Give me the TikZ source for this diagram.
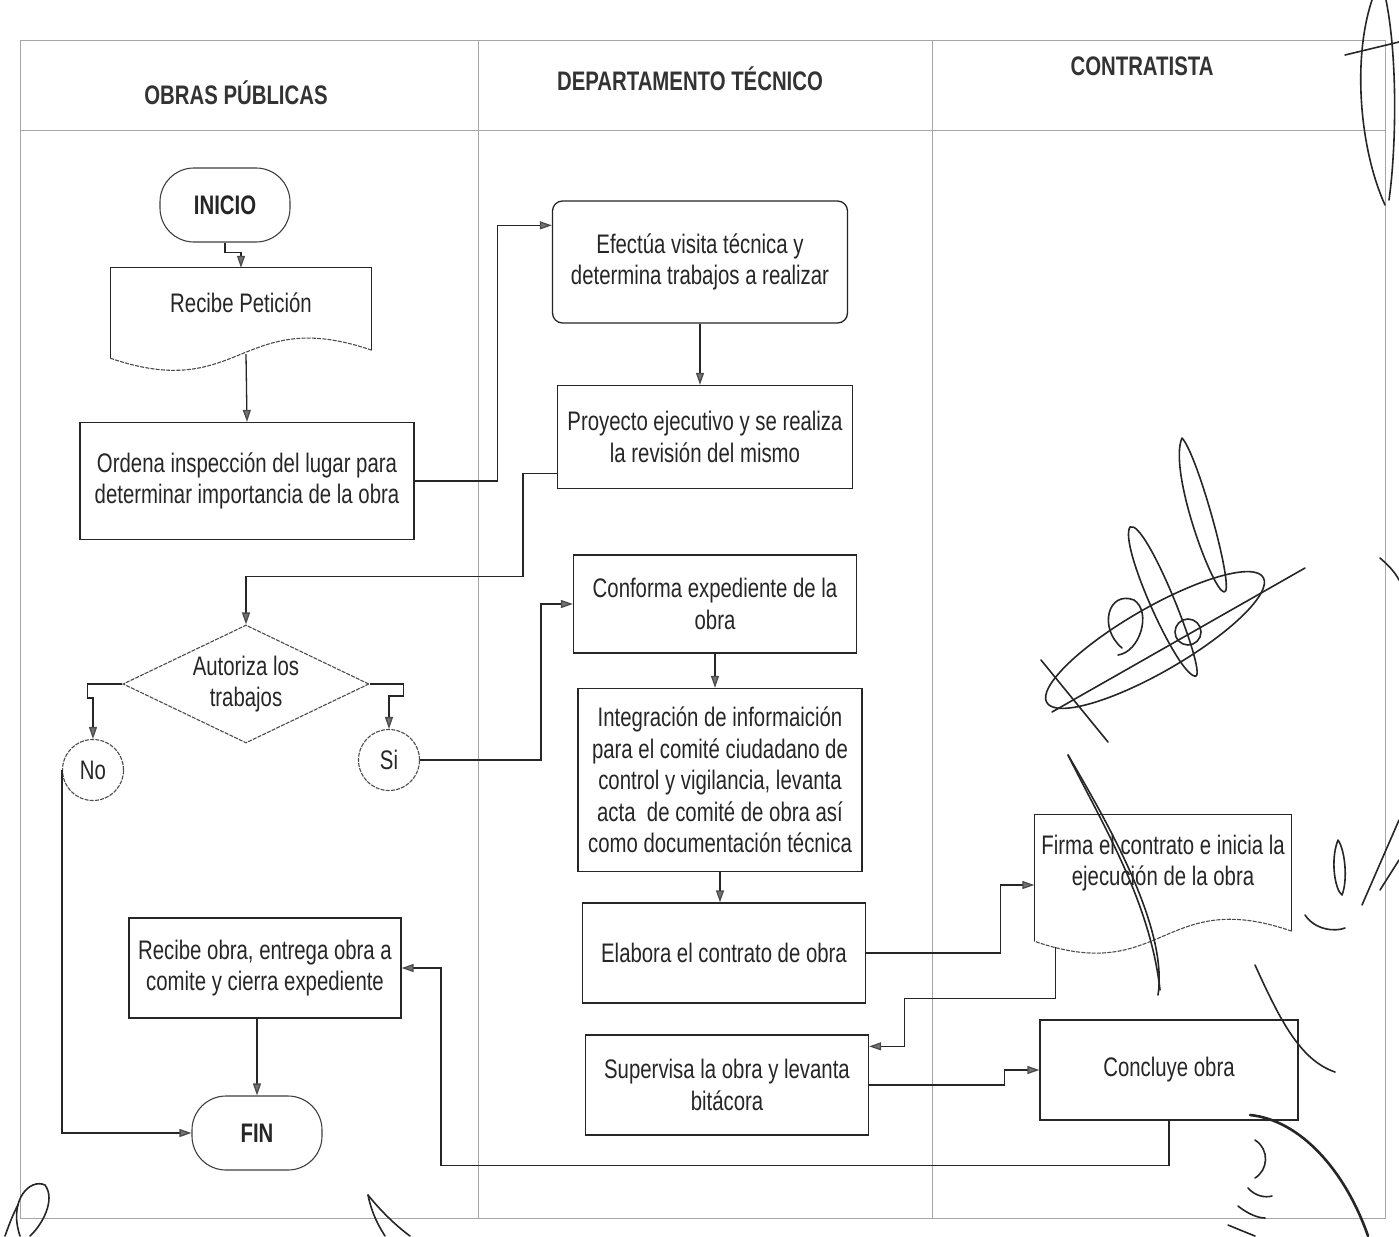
\documentclass[tikz,border=0pt]{standalone}
\usepackage{fontspec}
\setmainfont{Liberation Sans}[FakeStretch=0.76]
\usetikzlibrary{arrows.meta,shapes.geometric,calc}

\begin{document}
\begin{tikzpicture}[x=1pt,y=-1pt,
  font=\fontsize{26.8}{31.5}\selectfont,
  every node/.style={text=black!85, align=center, inner sep=0pt},
  lane/.style={draw=black!35, line width=0.9pt},
  head/.style={font=\fontsize{26.8}{31.5}\selectfont\bfseries, text=black!80},
  box/.style={draw=black!85, line width=1.3pt, rectangle},
  soft/.style={draw=black!70, line width=1.1pt, dash pattern=on 4pt off 1.2pt},
  term/.style={draw=black!75, line width=1.1pt, rounded corners=34pt, minimum width=130pt, minimum height=74pt,
               font=\fontsize{26.8}{31.5}\selectfont\bfseries},
  decision/.style={soft, diamond, aspect=2.08, minimum width=246pt, minimum height=118pt},
  conn/.style={soft, circle, minimum size=61pt},
  flow/.style={draw=black!85, line width=1.3pt,
               -{Triangle[length=12pt,width=8pt,fill=black!55,color=black!70]}},
  pen/.style={draw=black!85, line width=1.6pt, line cap=round, line join=round},
]
\useasboundingbox (0,0) rectangle (1399,1236);
\fill[white] (0,0) rectangle (1399,1236);

% swimlane table
\draw[lane] (20,40) rectangle (1385,1218);
\draw[lane] (20,130) -- (1385,130);
\draw[lane] (478,40) -- (478,1218);
\draw[lane] (932,40) -- (932,1218);
\node[head] (h1) at (236,93) {OBRAS PÚBLICAS};
\node[head] (h2) at (690,79) {DEPARTAMENTO TÉCNICO};
\node[head] (h3) at (1142,66) {CONTRATISTA};

% steps
\node[term] (inicio) at (225,205) {INICIO};

\node[rectangle, minimum width=261pt, minimum height=70pt] (recibe) at (241,303) {Recibe Petición};
\draw[box] ($(recibe.south west)+(0,20)$) -- (recibe.north west) -- (recibe.north east) -- ($(recibe.south east)+(0,12)$);
\draw[soft] ($(recibe.south east)+(0,12)$) .. controls ($(recibe.south)+(0,-33)$) and ($(recibe.south)+(0,65)$) .. ($(recibe.south west)+(0,20)$);

\node[box, minimum width=334pt, minimum height=117pt] (ordena) at (247,481)
  {Ordena inspección del lugar para\\determinar importancia de la obra};

\node[box, rounded corners=10pt, minimum width=295pt, minimum height=122pt] (efectua) at (700,262)
  {Efectúa visita técnica y\\determina trabajos a realizar};

\node[box, minimum width=295pt, minimum height=103pt] (proyecto) at (705,437)
  {Proyecto ejecutivo y se realiza\\la revisión del mismo};

\node[decision] (autoriza) at (246,684) {Autoriza los\\trabajos};
\node[conn] (no) at (93,770) {No};
\node[conn] (si) at (389,760) {Si};

\node[box, minimum width=283pt, minimum height=98pt] (conforma) at (715,604)
  {Conforma expediente de la\\obra};

\node[box, minimum width=284pt, minimum height=183pt] (integra) at (720,780)
  {Integración de informaición\\para el comité ciudadano de\\control y vigilancia, levanta\\acta\ \ de comité de obra así\\como documentación técnica};

\node[box, minimum width=283pt, minimum height=100pt] (elabora) at (724,953)
  {Elabora el contrato de obra};

\node[rectangle, minimum width=257pt, minimum height=96pt] (firma) at (1163,863)
  {Firma el contrato e inicia la\\ejecución de la obra};
\draw[box] ($(firma.south west)+(0,30)$) -- (firma.north west) -- (firma.north east) -- ($(firma.south east)+(0,20)$);
\draw[soft] ($(firma.south east)+(0,20)$) .. controls ($(firma.south)+(0,-25)$) and ($(firma.south)+(0,75)$) .. ($(firma.south west)+(0,30)$);

\node[box, minimum width=283pt, minimum height=100pt] (supervisa) at (727,1085)
  {Supervisa la obra y levanta\\bitácora};

\node[box, minimum width=258pt, minimum height=100pt] (concluye) at (1169,1070)
  {Concluye obra};

\node[box, minimum width=272pt, minimum height=100pt] (recibeobra) at (265,968)
  {Recibe obra, entrega obra a\\comite y cierra expediente};

\node[term] (fin) at (257,1133) {FIN};

% connectors
\draw[flow] (inicio.south) -- ++(0,10) -| (recibe.north);
\draw[flow] ($(recibe.south)+(5,16)$) -- (ordena.north);
\draw[flow] (ordena.east) -- ++(83,0) |- ($(efectua.north west)+(0,25)$);
\draw[flow] (efectua.south) -- (efectua.south |- proyecto.north);
\draw[flow] ($(proyecto.south west)+(0,-16)$) -- ++(-34,0) -- ++(0,103) -| (autoriza.north);
\draw[flow] (autoriza.west) -- ++(-35,0) -- ++(0,14) -| (no.north);
\draw[flow] (autoriza.east) -- ++(34,0) -- ++(0,12) -| (si.north);
\draw[flow] (si.east) -- ++(121,0) |- (conforma.west);
\draw[flow] (conforma.south) -- (conforma.south |- integra.north);
\draw[flow] (integra.south) -- (integra.south |- elabora.north);
\draw[flow] (elabora.east) -- ++(134,0) |- ($(firma.west)+(0,22)$);
\draw[flow] ($(firma.south west)+(21,36)$) -- ++(0,51) -- ++(-150.5,0) |- ($(supervisa.north east)+(0,12)$);
\draw[flow] (supervisa.east) -- ++(135,0) |- (concluye.west);
\draw[flow] (concluye.south) -- ++(0,45) -- ++(-728,0) |- (recibeobra.east);
\draw[flow] (recibeobra.south -| fin.north) -- (fin.north);
\draw[flow] (no.west) |- (fin.west);

% handwritten signature marks
\draw[pen] (1182,438) .. controls (1168,470) and (1212,590) .. (1224,592)
           .. controls (1236,594) and (1198,455) .. (1182,438);
\draw[pen] (1130,527) .. controls (1118,545) and (1180,680) .. (1196,676)
           .. controls (1206,670) and (1146,518) .. (1130,527);
\draw[pen, rotate around={30:(1155,640)}] (1155,640) ellipse (125 and 32);
\draw[pen] (1052,712) -- (1305,568);
\draw[pen] (1041,660) -- (1108,742);
\draw[pen] (1122,648) .. controls (1098,628) and (1108,590) .. (1134,600)
           .. controls (1152,612) and (1140,652) .. (1118,655);
\draw[pen] (1188,632) circle (13);
\draw[pen] (1068,755) .. controls (1100,820) and (1150,900) .. (1160,990);
\draw[pen] (1068,755) .. controls (1112,830) and (1168,930) .. (1158,995);
\draw[pen] (1372,0) .. controls (1352,60) and (1360,150) .. (1385,205);
\draw[pen] (1386,0) .. controls (1398,60) and (1396,150) .. (1389,200);
\draw[pen] (1345,55) -- (1399,42);
\draw[pen] (1380,558) .. controls (1388,565) and (1395,572) .. (1399,580);
\draw[pen] (1338,840) .. controls (1330,860) and (1335,890) .. (1342,895)
           .. controls (1348,880) and (1345,850) .. (1338,840);
\draw[pen] (1362,905) -- (1399,820);
\draw[pen] (1380,890) -- (1399,860);
\draw[pen] (1305,915) .. controls (1315,930) and (1335,932) .. (1345,928);
\draw[pen] (1255,965) .. controls (1280,1020) and (1300,1060) .. (1335,1072);
\draw[pen, line width=2.6pt] (1250,1115) .. controls (1300,1120) and (1345,1170) .. (1368,1236);
\draw[pen] (1255,1140) .. controls (1270,1150) and (1268,1170) .. (1255,1178);
\draw[pen] (1248,1188) .. controls (1255,1196) and (1265,1198) .. (1272,1196);
\draw[pen] (1238,1206) .. controls (1248,1214) and (1258,1218) .. (1265,1218);
\draw[pen] (1228,1225) .. controls (1240,1230) and (1250,1234) .. (1255,1236);
\draw[pen] (20,1236) .. controls (8,1200) and (30,1178) .. (45,1185)
           .. controls (56,1200) and (42,1225) .. (30,1236);
\draw[pen] (5,1236) .. controls (10,1222) and (14,1212) .. (18,1205);
\draw[pen] (368,1195) .. controls (380,1210) and (395,1225) .. (410,1236);
\draw[pen] (368,1195) .. controls (372,1215) and (380,1228) .. (385,1236);
\end{tikzpicture}
\end{document}
